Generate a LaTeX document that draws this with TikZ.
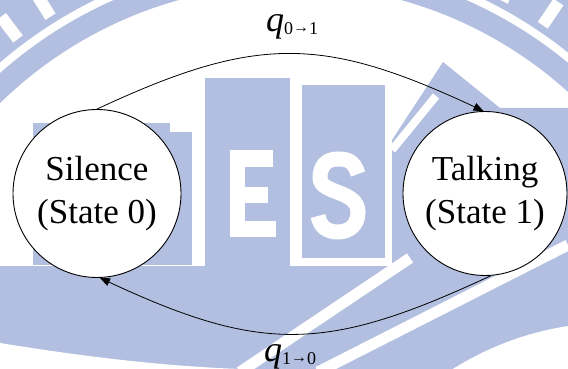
\documentclass[tikz,border=0pt]{standalone}
\usepackage{fontspec}
\setmainfont{Liberation Serif}
\newfontfamily\statefont{Liberation Serif}
\usetikzlibrary{arrows.meta}
\definecolor{wmblue}{RGB}{178,191,224}
\begin{document}
\begin{tikzpicture}[x=1pt,y=1pt,
  state/.style={circle, draw, fill=white, line width=0.9pt, inner sep=0pt,
    align=center, font=\statefont\fontsize{35}{43}\selectfont},
  conn/.style={line width=0.8pt, -{Triangle[length=10pt,width=8pt]}},
  lbl/.style={inner sep=0pt, font=\statefont\fontsize{36}{36}\selectfont},
  wm/.style={fill=wmblue},
  gap/.style={fill=white}]
\useasboundingbox (0,0) rectangle (568,369);

% faint emblem in the background (drawn with y pointing down)
\begin{scope}
  \clip (0,0) rectangle (568,369);
  \begin{scope}[shift={(0,369)}, yscale=-1]
    % seal rings
    \draw[wmblue, line width=22pt] (290,400) circle (426);
    \draw[wmblue, line width=80pt] (290,400) circle (485);
    \foreach \a in {122,127,56,62}
      \draw[white, line width=12pt]
        ({290+452*cos(\a)},{400-452*sin(\a)}) -- ({290+480*cos(\a)},{400-480*sin(\a)});
    % lower band
    \fill[wm] (0,266) rectangle (568,372);
    % letter blocks
    \fill[wm] (33,123) rectangle (192,265);
    \fill[gap] (170,123) rectangle (192,132);
    \fill[wm] (205,78) rectangle (290,268);
    \fill[gap] (230,150) rectangle (245,237);
    \fill[gap] (230,150) rectangle (273,167);
    \fill[gap] (230,187) rectangle (268,203);
    \fill[gap] (230,221) rectangle (276,237);
    \fill[wm] (302,85) rectangle (385,258);
    \draw[white, line width=15pt]
      (358,174) .. controls (354,160) and (346,159) .. (338,159)
      .. controls (326,159) and (320,166) .. (320,178)
      .. controls (320,194) and (358,190) .. (358,212)
      .. controls (358,226) and (348,232) .. (338,232)
      .. controls (326,232) and (320,226) .. (318,216);
    \fill[gap] (302,258) rectangle (390,266);
    % wedge on the right
    \fill[wm] (392,270) -- (392,140) -- (443,62) -- (500,108) -- (568,108) -- (568,270) -- cycle;
    \draw[white, line width=8pt] (392,150) -- (436,96);
    % diagonal stripes and lower corners
    \draw[white, line width=11pt] (240,372) -- (410,258);
    \draw[white, line width=11pt] (318,372) -- (568,245);
    \fill[gap] (0,343) .. controls (80,356) and (160,366) .. (240,369) -- (240,372) -- (0,372) -- cycle;
    \fill[gap] (448,372) .. controls (490,345) and (530,332) .. (568,326) -- (568,372) -- cycle;
  \end{scope}
\end{scope}

% states
\node[state, minimum size=168pt] (s0) at (97,175.5) {Silence\\(State 0)};
\node[state, minimum size=164pt] (s1) at (485,175.5) {Talking\\(State 1)};

% transitions
\draw[conn] (s0.north) .. controls +(25:177) and +(155:177) .. (s1.91);
\draw[conn] (s1.-86) .. controls +(205:180) and +(335:180) .. (s0.-88);

% transition rates
\node[lbl, anchor=base] (l01) at (292,337)
  {\textit{q}\raisebox{-3pt}{\fontsize{18}{18}\selectfont 0\raisebox{2pt}{\fontsize{16}{16}\selectfont →}1}};
\node[lbl, anchor=base] (l10) at (290,7)
  {\textit{q}\raisebox{-3pt}{\fontsize{18}{18}\selectfont 1\raisebox{2pt}{\fontsize{16}{16}\selectfont →}0}};
\end{tikzpicture}
\end{document}
